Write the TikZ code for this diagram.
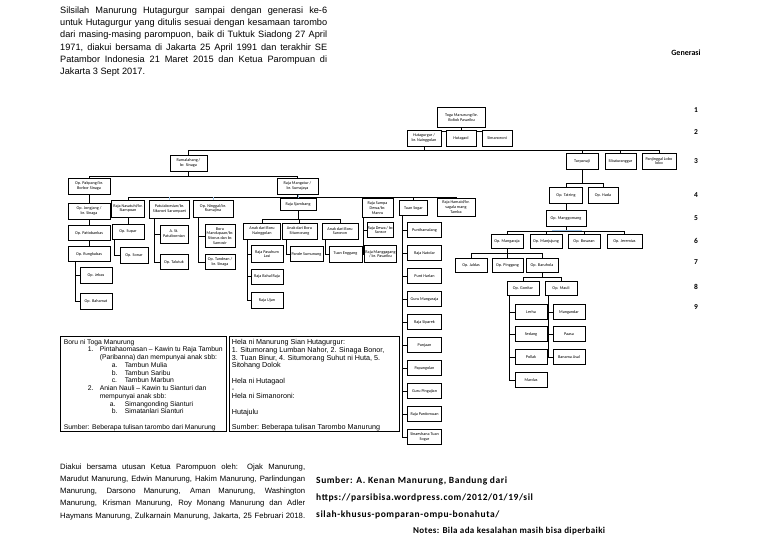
\documentclass[tikz,border=0pt]{standalone}
\usepackage{fontspec}
\setmainfont{Liberation Sans}
\newfontfamily\calibri{Carlito}
\usepackage{xcolor}
\definecolor{tickblue}{HTML}{9DC3E6}
\pgfdeclarelayer{bg}
\pgfsetlayers{bg,main}

\begin{document}
\begin{tikzpicture}[
  x=1pt, y=-1pt,
  pbox/.style={draw, line width=0.95pt, fill=white, align=center, inner sep=0.6pt,
    minimum width=32pt, minimum height=15pt, font=\calibri\fontsize{4.2}{4.7}\selectfont},
  link/.style={line width=0.75pt},
  bluelink/.style={line width=0.9pt, draw=tickblue},
  gen/.style={font=\calibri\bfseries\fontsize{7.5}{8}\selectfont},
  infobox/.style={draw, line width=0.6pt, anchor=north west, inner xsep=3.5pt, inner ysep=3pt,
    font=\fontsize{7.2}{7.75}\selectfont}
]
\useasboundingbox (0,0) rectangle (768,543);

% intro text
\node[anchor=north west, inner sep=0pt, align=left, font=\fontsize{9.2}{12.3}\selectfont] (intro) at (60,6.5) {%
\makebox[267pt][s]{Silsilah Manurung Hutagurgur sampai dengan generasi ke-6}\\
\makebox[267pt][s]{untuk Hutagurgur yang ditulis sesuai dengan kesamaan tarombo}\\
\makebox[267pt][s]{dari masing-masing parompuon, baik di Tuktuk Siadong 27 April}\\
\makebox[267pt][s]{1971, diakui bersama di Jakarta 25 April 1991 dan terakhir SE}\\
\makebox[267pt][s]{Patambor Indonesia 21 Maret 2015 dan Ketua Parompuan di}\\
Jakarta 3 Sept 2017.};

% generations
\node[gen, font=\calibri\bfseries\fontsize{8}{9}\selectfont] (generasi) at (686,53) {Generasi};
\foreach \n/\y in {1/110,2/132,3/161,4/195,5/218,6/241,7/262,8/287,9/307}
  \node[gen] (g\n) at (696,\y) {\n};

% generation 1 - 3
\node[pbox, minimum width=48pt, minimum height=20pt] (toga) at (461.5,117.5) {Toga Manurung/br.\\ Boltok Pasaribu};
\node[pbox, minimum width=34pt, minimum height=16pt] (hgur) at (424,138) {Hutagurgur /\\ br. Nainggolan};
\node[pbox, minimum width=30pt, minimum height=16pt] (hgaol) at (461,138) {Hutagaol};
\node[pbox, minimum width=30pt, minimum height=16pt] (smrn) at (497,138) {Simanoroni};
\node[pbox, minimum width=37pt, minimum height=16pt] (ramal) at (188.5,163) {Ramalahang /\\ br. Sinaga};
\node[pbox, minimum width=32pt, minimum height=16pt] (turp) at (582,161) {Turpanaji};
\node[pbox, minimum width=31pt, minimum height=16pt] (sibat) at (620.5,161) {Sibaturanggar};
\node[pbox, minimum width=34pt, minimum height=16pt] (panj) at (659,161) {Panjinggal Lobo\\ lobo};

% generation 4 - 5, left
\node[pbox, minimum width=42pt, minimum height=16pt] (pakp) at (89,186) {Op. Pakpang/br.\\ Borbor Sinaga};
\node[pbox, minimum width=41pt, minimum height=16pt] (mangt) at (297.5,186) {Raja Mangatur /\\ br. Sumajaya};
\node[pbox, minimum width=42pt, minimum height=16pt] (jongj) at (89,211) {Op. Jongjang /\\ br. Sinaga};
\node[pbox, minimum width=42pt] (patio) at (89,233) {Op. Patiobankas};
\node[pbox, minimum width=42pt] (rungk) at (89,254) {Op. Rungkubas};
\node[pbox, minimum height=16pt] (jebas) at (96,275) {Op. Jebas};
\node[pbox, minimum height=16pt] (baham) at (96,301) {Op. Bahamat};

\node[pbox, minimum width=33pt, minimum height=17pt] (nasat) at (128,208.5) {Raja Nasatuhi/br.\\ Siampoan};
\node[pbox, minimum width=40pt, minimum height=18pt] (patui) at (169.5,209) {Patuiaborsian/br.\\ Sikaroni Sarumpaet};
\node[pbox, minimum width=40pt, minimum height=17pt] (ningg) at (213,208.5) {Op. Ninggal/br.\\ Rumajina};
\node[pbox, minimum width=36pt, minimum height=12pt] (sjamb) at (298,204) {Raja Sjambang};
\node[pbox, minimum width=31pt, minimum height=19pt] (sampa) at (377.5,208) {Raja Sampa\\ Dewa/br.\\ Manru};
\node[pbox, minimum width=28pt] (sogar) at (413.5,208) {Tuan Sogar};
\node[pbox, minimum width=38pt, minimum height=18pt] (hamai) at (456,207) {Raja Hamaid/br.\\ sagala mang\\ Tamba};

\node[pbox] (supar) at (128,231.5) {Op. Supar};
\node[pbox, minimum width=28pt, minimum height=16pt] (sonar) at (134,255) {Op. Sonar};
\node[pbox, minimum width=28pt, minimum height=18pt] (astp) at (174,234) {A. St.\\ Patuibornian};
\node[pbox, minimum width=28pt] (talut) at (174,262) {Op. Talutuk};
\node[pbox, minimum width=30pt, minimum height=23pt] (bmand) at (220,236) {Boru\\ Mandupaan/br.\\ Sitorus dan br.\\ Samosir};
\node[pbox, minimum width=30pt] (tande) at (220,262) {Op. Tandean /\\ br. Sinaga};

\node[pbox, minimum width=37pt, minimum height=16pt] (anng) at (262,231) {Anak dari Boru\\ Nainggolan};
\node[pbox, minimum width=35pt, minimum height=16pt] (ansm) at (299.5,231) {Anak dari Boru\\ Situmorang};
\node[pbox, minimum width=36pt, minimum height=16pt] (ansr) at (340,231) {Anak dari Boru\\ Saronon};
\node[pbox, minimum height=17pt] (pasuh) at (267,254) {Raja Pasuhum\\ Lasi};
\node[pbox] (bahal) at (267,276.5) {Raja Bahal Raja};
\node[pbox, minimum height=16pt] (ujan) at (267,300) {Raja Ujan};
\node[pbox, minimum width=33pt] (pande) at (306.5,254) {Pande Sumunung};
\node[pbox, minimum width=33pt, minimum height=16pt] (engg) at (345.5,254) {Tuan Enggang};
\node[pbox, minimum width=26pt] (dewa) at (380.5,230) {Raja Dewa / br.\\ Sansor};
\node[pbox, minimum width=27pt, minimum height=17pt] (mngg) at (380.5,254) {Raja Manggagang\\ / br. Pasaribu};

\foreach \i/\t in {1/Punthamalang,2/Raja Natolar,3/Punt Harlan,4/Guru Mangaraja,5/Raja Siparek,
  6/Punjaan,7/Papangolan,8/Guru Pingajian,9/Raja Pardomuan,10/{Sinaeshana Tuan\\ Sogar}}
  \node[pbox, minimum width=34pt] (sg\i) at (424.5,{230+23*(\i-1)}) {\t};

% generation 4 - 9, right
\node[pbox, minimum width=33pt, minimum height=16pt] (tatr) at (566,195) {Op. Tatring};
\node[pbox, minimum width=30pt, minimum height=16pt] (hada) at (603,195) {Op. Hada};
\node[pbox, minimum width=40pt, minimum height=16pt] (mangg) at (566,218) {Op. Manggomang};
\node[pbox, minimum height=14pt] (mgrj) at (507,241) {Op. Mangaraja};
\node[pbox, minimum height=14pt] (mjjg) at (546,241) {Op. Manjujung};
\node[pbox, minimum height=14pt] (bosr) at (584,241) {Op. Bosaran};
\node[pbox, minimum width=35pt, minimum height=14pt] (jerm) at (624.5,241) {Op. Jeremias};
\node[pbox, minimum height=14pt] (jald) at (471,265) {Op. Jaldas};
\node[pbox, minimum width=31pt, minimum height=14pt] (ping) at (507.5,265) {Op. Pinggang};
\node[pbox, minimum height=14pt] (baru) at (542,265) {Op. Baruhola};
\node[pbox, minimum height=14pt] (gont) at (523,288) {Op. Gonitar};
\node[pbox, minimum height=14pt] (maul) at (561,288) {Op. Mauli};
\node[pbox] (lerha) at (531,312) {Lerha};
\node[pbox] (sedng) at (531,334) {Sedang};
\node[pbox] (pollk) at (531,357) {Pollak};
\node[pbox] (mards) at (531,380) {Mardas};
\node[pbox] (mangd) at (569,312) {Mangandar};
\node[pbox] (paasa) at (569,334) {Paasa};
\node[pbox] (banam) at (569,357) {Banama Asal};

\begin{pgfonlayer}{bg}
\foreach \c in {hgur,hgaol,smrn} \draw[link] (toga.south) -- ++(0,3) -| (\c.north);
\foreach \c in {ramal,turp,sibat,panj} \draw[link] (hgur.south) -- ++(0,4) -| (\c.north);
\foreach \c in {pakp,mangt} \draw[link] (ramal.south) -- ++(0,5) -| (\c.north);
\draw[link] (pakp) -- (jongj) (jongj) -- (patio) (patio) -- (rungk);
\foreach \c in {jebas,baham} \draw[link] ([xshift=8pt]rungk.south west) |- (\c.west);
\foreach \c in {nasat,patui,ningg,sjamb,sampa,sogar,hamai} \draw[link] (mangt.south) -- ++(0,3) -| (\c.north);
\foreach \c in {patui,ningg,sjamb} \draw[bluelink] (\c.north) -- ++(0,-2.2);
\draw[link] (nasat) -- (supar);
\draw[link] ([xshift=3pt]supar.south west) |- (sonar.west);
\foreach \c in {astp,talut} \draw[link] ([xshift=5pt]patui.south west) |- (\c.west);
\foreach \c in {bmand,tande} \draw[link] ([xshift=6pt]ningg.south west) |- (\c.west);
\foreach \c in {anng,ansm,ansr} \draw[link] (sjamb.south) -- ++(0,9) -| (\c.north);
\foreach \c in {pasuh,bahal,ujan} \draw[link] ([xshift=4pt]anng.south west) |- (\c.west);
\draw[link] ([xshift=5pt]ansm.south west) |- (pande.west);
\draw[link] ([xshift=4pt]ansr.south west) |- (engg.west);
\foreach \c in {dewa,mngg} \draw[link] ([xshift=2pt]sampa.south west) |- (\c.west);
\foreach \i in {1,...,10} \draw[link] ([xshift=3.5pt]sogar.south west) |- (sg\i.west);
\foreach \c in {tatr,hada} \draw[link] (turp.south) -- ++(0,14) -| (\c.north);
\draw[link] (tatr) -- (mangg);
\foreach \c in {mgrj,mjjg,bosr,jerm} \draw[link] (mangg.south) -- ++(0,5) -| (\c.north);
\draw[bluelink] ([xshift=6pt,yshift=3pt]mjjg.north) -- ([xshift=-2pt,yshift=3pt]bosr.north);
\foreach \c in {jald,ping,baru} \draw[link] (mgrj.south) -- ++(0,5) -| (\c.north);
\foreach \c in {gont,maul} \draw[link] (baru.south) -- ++(0,5) -| (\c.north);
\foreach \c in {lerha,sedng,pollk,mards} \draw[link] ([xshift=3pt]gont.south west) |- (\c.west);
\foreach \c in {mangd,paasa,banam} \draw[link] ([xshift=4pt]maul.south west) |- (\c.west);
\end{pgfonlayer}

% info boxes
\node[infobox, font=\fontsize{6.8}{7.75}\selectfont] (boruni) at (60,336) {\parbox[t][89pt][t]{159pt}{%
Boru ni Toga Manurung\\
\hspace*{24pt}\makebox[12pt][l]{1.}\mbox{Pintahaomasan -- Kawin tu Raja Tambun}\\
\hspace*{36pt}\mbox{(Paribanna) dan mempunyai anak sbb:}\\
\hspace*{48pt}\makebox[13pt][l]{a.}Tambun Mulia\\
\hspace*{48pt}\makebox[13pt][l]{b.}Tambun Saribu\\
\hspace*{48pt}\makebox[13pt][l]{c.}Tambun Marbun\\
\hspace*{24pt}\makebox[12pt][l]{2.}\mbox{Anian Nauli -- Kawin tu Sianturi dan}\\
\hspace*{36pt}mempunyai anak sbb:\\
\hspace*{46pt}\makebox[15pt][l]{a.}Simangonding Sianturi\\
\hspace*{48pt}\makebox[13pt][l]{b.}Simatanlari Sianturi\\
\mbox{}\\
\mbox{Sumber: Beberapa tulisan tarombo dari Manurung}}};
\node[infobox, inner xsep=3pt] (helani) at (228.5,336) {\parbox[t][89pt][t]{164pt}{%
Hela ni Manurung Sian Hutagurgur:\\
\mbox{1. Situmorang Lumban Nahor, 2. Sinaga Bonor,}\\
\mbox{3. Tuan Binur, 4. Situmorang Suhut ni Huta, 5.}\\
Sitohang Dolok\\
\mbox{}\\
Hela ni Hutagaol\\
-\\
Hela ni Simanoroni:\\
\mbox{}\\
Hutajulu\\
\mbox{}\\
\mbox{Sumber: Beberapa tulisan Tarombo Manurung}}};

% closing texts
\node[anchor=north west, inner sep=0pt, align=left, font=\fontsize{7.7}{12.2}\selectfont] (diakui) at (60,463.5) {%
\makebox[245pt][s]{Diakui bersama utusan Ketua Parompuon oleh: Ojak Manurung,}\\
\makebox[245pt][s]{Marudut Manurung, Edwin Manurung, Hakim Manurung, Parlindungan}\\
\makebox[245pt][s]{Manurung, Darsono Manurung, Aman Manurung, Washington}\\
\makebox[245pt][s]{Manurung, Krisman Manurung, Roy Monang Manurung dan  Adler}\\
\makebox[245pt][s]{Haymans Manurung, Zulkarnain Manurung, Jakarta, 25 Februari 2018.}};
\node[anchor=north west, inner sep=0pt, align=left,
  font=\calibri\bfseries\fontsize{9.5}{17}\selectfont\addfontfeatures{LetterSpace=6}] (sumber) at (316,476.5) {%
Sumber: A. Kenan Manurung, Bandung dari\\
https://parsibisa.wordpress.com/2012/01/19/sil\\
silah-khusus-pomparan-ompu-bonahuta/};
\node[anchor=west, inner sep=0pt,
  font=\calibri\bfseries\fontsize{9}{10}\selectfont\addfontfeatures{LetterSpace=4}] (notes) at (413,531) {Notes: Bila ada kesalahan masih bisa diperbaiki};
\end{tikzpicture}
\end{document}
